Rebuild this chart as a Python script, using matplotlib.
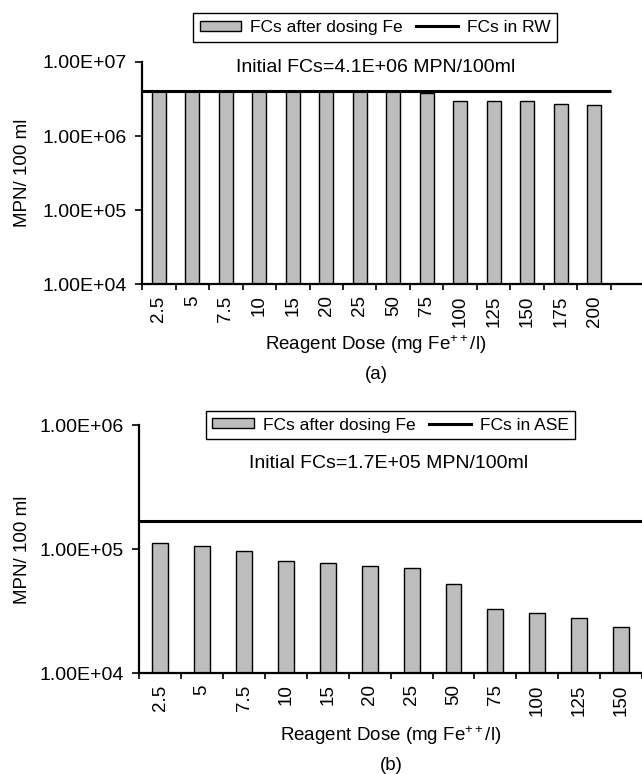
import numpy as np
import matplotlib
matplotlib.use("Agg")
import matplotlib.pyplot as plt
from matplotlib.patches import Patch
from matplotlib.lines import Line2D
from matplotlib.ticker import FixedLocator, FuncFormatter

plt.rcParams['font.family'] = ['Liberation Sans', 'DejaVu Sans']
plt.rcParams['mathtext.fontset'] = 'custom'
plt.rcParams['mathtext.rm'] = 'Liberation Sans'
plt.rcParams['mathtext.it'] = 'Liberation Sans'

# (a) raw water
doses_a = ['2.5', '5', '7.5', '10', '15', '20', '25', '50', '75', '100', '125', '150', '175', '200']
fcs_a = [4.1e6, 4.1e6, 4.1e6, 4.1e6, 4.1e6, 4.1e6, 4.1e6, 4.1e6, 3.8e6, 3.0e6, 3.0e6, 3.0e6, 2.75e6, 2.6e6]
initial_a = 4.1e6

# (b) ASE
doses_b = ['2.5', '5', '7.5', '10', '15', '20', '25', '50', '75', '100', '125', '150']
fcs_b = [1.12e5, 1.07e5, 9.7e4, 8.0e4, 7.8e4, 7.4e4, 7.1e4, 5.25e4, 3.3e4, 3.06e4, 2.79e4, 2.36e4]
initial_b = 1.7e5

bar_color = '#bdbdbd'
W, H = 642, 774
fig = plt.figure(figsize=(W / 100, H / 100), dpi=100)


def sci_fmt(v, pos):
    e = int(round(np.log10(v)))
    return '1.00E+%02d' % e


def panel(rect, doses, fcs, initial, ncat, line_end, width, ylims, decades):
    ax = fig.add_axes(rect)
    x = np.arange(len(doses))
    ax.bar(x, fcs, width=width, color=bar_color, edgecolor='black', linewidth=1.0, zorder=2)
    ax.hlines(initial, -0.5, line_end, color='black', linewidth=2.2, zorder=3)
    ax.set_yscale('log')
    ax.set_ylim(*ylims)
    ax.set_xlim(-0.5, ncat - 0.5)
    ax.yaxis.set_major_locator(FixedLocator(decades))
    ax.yaxis.set_minor_locator(FixedLocator([]))
    ax.yaxis.set_major_formatter(FuncFormatter(sci_fmt))
    ax.set_xticks(x)
    ax.set_xticklabels(doses, rotation=90, fontsize=13.5)
    ax.set_xticks(np.arange(len(doses) + 1) - 0.5, minor=True)
    ax.tick_params(axis='x', which='major', length=0, pad=8)
    ax.tick_params(axis='x', which='minor', length=4, width=1.2, direction='out')
    ax.tick_params(axis='y', length=5, width=1.2, pad=6, labelsize=14)
    for s in ['top', 'right']:
        ax.spines[s].set_visible(False)
    for s in ['left', 'bottom']:
        ax.spines[s].set_linewidth(1.6)
    ax.patch.set_alpha(0)
    return ax


def legend(label, cx, cy):
    handles = [Patch(facecolor=bar_color, edgecolor='black', linewidth=1.0),
               Line2D([0], [0], color='black', linewidth=2.2)]
    fig.legend(handles, ['FCs after dosing Fe', label], loc='center',
               bbox_to_anchor=(cx / W, 1 - cy / H), ncol=2, fontsize=12.5,
               frameon=True, fancybox=False, edgecolor='black', framealpha=1,
               handlelength=2.4, handleheight=0.5, handletextpad=0.5,
               columnspacing=0.8, borderpad=0.4)


# top panel
ax_a = panel([142 / W, 1 - 284.3 / H, 502.5 / W, (284.3 - 62) / H],
             doses_a, fcs_a, initial_a, 15, 13.5, 0.42, (1e4, 1e7), [1e4, 1e5, 1e6, 1e7])
legend('FCs in RW', 375, 27.5)
fig.text(376 / W, 1 - 68 / H, 'Initial FCs=4.1E+06 MPN/100ml', ha='center', va='center', fontsize=14)
fig.text(376 / W, 1 - 345 / H, 'Reagent Dose (mg Fe$^{++}$/l)', ha='center', va='center', fontsize=13.5)
fig.text(376 / W, 1 - 374 / H, '(a)', ha='center', va='center', fontsize=13.5)
fig.text(22.5 / W, 1 - 173 / H, 'MPN/ 100 ml', ha='center', va='center', rotation=90, fontsize=13.5)

# bottom panel
ax_b = panel([139.3 / W, 1 - 673.3 / H, 502.7 / W, (673.3 - 425.3) / H],
             doses_b, fcs_b, initial_b, 12, 11.5, 0.38, (1e4, 1e6), [1e4, 1e5, 1e6])
legend('FCs in ASE', 390.5, 425)
fig.text(389 / W, 1 - 463.5 / H, 'Initial FCs=1.7E+05 MPN/100ml', ha='center', va='center', fontsize=14)
fig.text(391 / W, 1 - 735.7 / H, 'Reagent Dose (mg Fe$^{++}$/l)', ha='center', va='center', fontsize=13.5)
fig.text(391 / W, 1 - 765 / H, '(b)', ha='center', va='center', fontsize=13.5)
fig.text(22.5 / W, 1 - 549.5 / H, 'MPN/ 100 ml', ha='center', va='center', rotation=90, fontsize=13.5)

fig.savefig('out.png', dpi=100)
